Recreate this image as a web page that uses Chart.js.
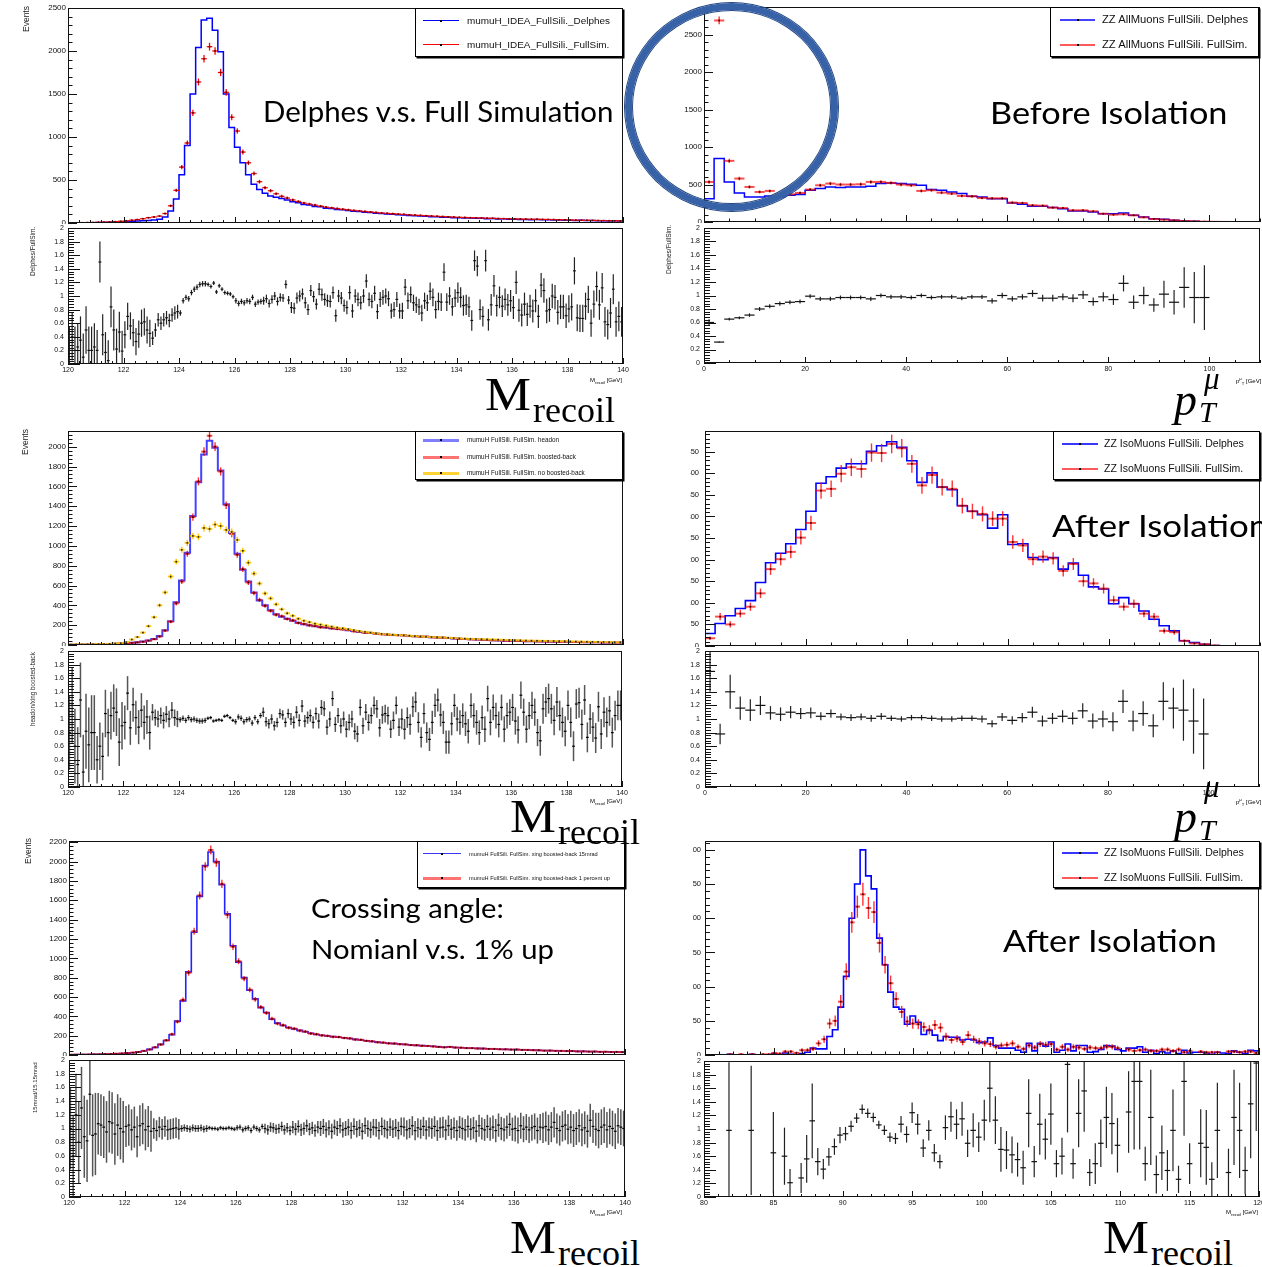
<!DOCTYPE html>
<html>
<head>
<meta charset="utf-8">
<title>Recoil mass and muon pT: Delphes vs full simulation</title>
<script src="https://cdn.jsdelivr.net/npm/chart.js@4.4.1/dist/chart.umd.min.js"></script>
<style>
  html, body { margin: 0; background: #fff; }
  #page { position: relative; width: 1262px; height: 1267px; overflow: hidden; }
  #page canvas { position: absolute; }
  .txt { position: absolute; white-space: nowrap; color: #000; transform-origin: 0 0; }
  .legend { position: absolute; background: #fff; border: 1px solid #000; box-shadow: 1.5px 1.5px 0 #000; box-sizing: border-box; }
  .legend .ln { position: absolute; height: 0; }
  .legend .mk { position: absolute; width: 2px; height: 2px; background: #000; }
  .legend .lt { position: absolute; font: 10px "Liberation Sans", Arial, sans-serif; line-height: 10px; white-space: nowrap; color: #111; transform-origin: 0 50%; }
  #ring { position: absolute; left: 625px; top: 3px; width: 213px; height: 208px; box-sizing: border-box;
          border: 7px solid #3762a8; border-radius: 50%; box-shadow: 0 0 0 1px #24467f, inset 0 0 0 1px #24467f; }
</style>
</head>
<body>
<div id="page"></div>
<script>
// ---------- mumuH recoil mass, 120-140 GeV ----------
const recoilLo = 120, recoilHi = 140;
const recoilBin = 0.2;       // main pads
const recoilRatioBin = 0.1;  // ratio pads

const mumuDelphes = [
  1, 2, 2, 3, 4, 5, 6, 8, 10, 12,
  15, 18, 22, 25, 30, 35, 45, 70, 140, 280,
  560, 900, 1500, 2040, 2360, 2380, 2240, 1990, 1500, 1110,
  880, 700, 560, 450, 390, 345, 315, 300, 285, 268,
  248, 236, 214, 210, 192, 188, 172, 170, 158, 153,
  146, 137, 133, 125, 121, 113, 110, 104, 102, 96,
  93, 87, 85, 80, 79, 74, 73, 68, 67, 62,
  62, 58, 58, 54, 54, 50, 51, 47, 48, 44,
  45, 41, 42, 39, 40, 37, 37, 34, 35, 32,
  33, 30, 31, 28, 29, 26, 27, 24, 25, 23
];
const mumuFullSim = [
  2, 3, 4, 5, 6, 8, 10, 12, 16, 20,
  26, 32, 40, 50, 62, 70, 80, 110, 200, 380,
  650, 930, 1280, 1640, 1910, 2050, 2000, 1750, 1520, 1230,
  1070, 825, 700, 575, 480, 410, 375, 340, 310, 290,
  268, 250, 232, 220, 208, 196, 184, 176, 168, 160,
  152, 146, 140, 134, 128, 122, 116, 112, 108, 104,
  100, 95, 91, 88, 85, 81, 78, 75, 72, 69,
  66, 64, 62, 60, 58, 56, 54, 52, 51, 49,
  48, 46, 45, 44, 43, 42, 41, 40, 38, 37,
  34, 33, 32, 31, 30, 29, 28, 27, 26, 25
];
// Delphes / FullSim, one row per GeV
const mumuRatio = [
  0.2, 0.4, 0.2, 0.25, 0.35, 0.1, 0.5, 0.2, 0.2, 0.25,
  0.2, 1.5, 0.43, 0.17, 0.05, 0.84, 0.5, 0.22, 0.47, 0.19,
  0.43, 0.7, 0.56, 0.46, 0.33, 0.44, 0.6, 0.62, 0.5, 0.45,
  0.38, 0.5, 0.65, 0.6, 0.65, 0.68, 0.64, 0.72, 0.75, 0.77,
  0.75, 0.93, 0.98, 0.96, 1.05, 1.1, 1.13, 1.17, 1.18, 1.18,
  1.17, 1.14, 1.19, 1.06, 1.15, 1.1, 1.05, 1.04, 1.03, 0.99,
  0.93, 0.89, 0.92, 0.9, 0.93, 0.92, 0.98, 0.88, 0.91, 0.92,
  0.93, 0.96, 0.89, 0.95, 1.0, 0.92, 0.98, 0.97, 1.17, 0.94,
  0.83, 0.82, 0.97, 1.0, 1.03, 0.9, 0.8, 1.08, 0.99, 0.88,
  1.1, 1.02, 0.95, 0.93, 0.92, 1.05, 0.71, 1.0, 0.97, 0.86,
  0.83, 1.05, 0.78, 1.0, 0.95, 0.9, 1.0, 1.22, 0.95, 0.92,
  1.04, 0.77, 0.95, 0.98, 1.0, 0.96, 0.78, 0.8, 0.95, 0.78,
  0.78, 1.13, 0.93, 1.02, 0.9, 0.87, 0.84, 0.75, 0.93, 0.9,
  1.07, 0.98, 0.8, 0.92, 0.91, 1.35, 0.91, 1.0, 0.84, 0.97,
  1.05, 0.98, 0.86, 0.87, 0.84, 0.64, 1.52, 1.44, 0.8, 0.7,
  1.52, 0.65, 0.87, 1.15, 0.86, 0.98, 0.85, 0.95, 0.87, 0.93,
  0.83, 1.2, 0.79, 0.72, 0.88, 0.73, 0.85, 0.78, 0.93, 0.7,
  1.16, 1.08, 0.78, 0.8, 1.0, 0.98, 0.76, 0.84, 0.84, 0.71,
  0.81, 0.84, 1.37, 0.68, 0.67, 0.67, 0.85, 0.95, 0.6, 0.88,
  1.14, 0.87, 1.12, 0.62, 0.58, 0.75, 1.1, 0.62, 0.7, 0.62
];
const mumuRatioErr = [0.35, 0.3, 0.2, 0.1, 0.04, 0.03, 0.04, 0.06, 0.08, 0.09,
                      0.1, 0.11, 0.12, 0.13, 0.15, 0.16, 0.17, 0.18, 0.2, 0.22];

const headon = [
  2, 3, 3, 4, 5, 6, 8, 10, 12, 15,
  18, 22, 28, 35, 45, 60, 90, 150, 240, 430,
  650, 930, 1300, 1640, 1920, 2060, 1990, 1760, 1420, 1130,
  920, 760, 640, 530, 450, 400, 350, 310, 285, 265,
  245, 225, 210, 200, 190, 182, 176, 170, 165, 160,
  150, 140, 132, 126, 120, 115, 110, 106, 102, 100,
  96, 92, 88, 85, 82, 79, 76, 73, 70, 66,
  63, 60, 58, 55, 52, 50, 48, 46, 44, 43,
  42, 40, 39, 38, 37, 36, 35, 34, 33, 32,
  31, 30, 29, 28, 28, 27, 26, 25, 25, 24
];
const boostedBack = [
  2, 2, 3, 4, 5, 6, 8, 9, 12, 14,
  17, 21, 26, 33, 44, 58, 85, 145, 235, 420,
  640, 920, 1290, 1650, 1950, 2110, 2000, 1750, 1410, 1120,
  910, 765, 630, 525, 455, 395, 345, 305, 290, 262,
  248, 222, 212, 198, 192, 178, 178, 168, 162, 158,
  152, 138, 135, 124, 122, 112, 108, 104, 100, 98,
  98, 90, 88, 83, 84, 78, 75, 74, 70, 67,
  62, 61, 57, 56, 53, 51, 47, 47, 44, 42,
  43, 40, 38, 39, 36, 36, 34, 35, 32, 33,
  30, 31, 28, 29, 27, 28, 26, 25, 24, 25
];
const noBoostedBack = [
  4, 5, 5, 6, 7, 9, 10, 12, 15, 18,
  30, 55, 80, 125, 190, 280, 400, 530, 690, 840,
  960, 1030, 1100, 1090, 1180, 1170, 1215, 1200, 1160, 1140,
  1060, 950, 830, 720, 620, 520, 470, 410, 360, 320,
  295, 265, 245, 230, 215, 205, 195, 185, 175, 168,
  160, 150, 140, 132, 125, 118, 112, 108, 104, 100,
  97, 94, 90, 86, 83, 80, 78, 76, 73, 70,
  67, 64, 62, 60, 58, 57, 55, 54, 52, 50,
  48, 47, 45, 44, 43, 42, 41, 40, 39, 38,
  36, 35, 34, 33, 32, 31, 30, 29, 28, 27
];
// headon / xing boosted-back
const boostRatio = [
  0.8, 1.2, 0.6, 0.33, 1.28, 0.22, 0.82, 0.62, 0.8, 0.8,
  0.4, 0.6, 0.45, 1.08, 0.8, 1.05, 1.16, 1.1, 0.66, 0.9,
  0.95, 1.38, 0.87, 1.21, 1.02, 0.88, 1.13, 0.95, 1.03, 0.8,
  1.1, 1.02, 1.0, 1.05, 0.98, 1.07, 1.0, 1.13, 1.02, 1.0,
  0.99, 1.01, 0.98, 1.02, 0.99, 1.0, 0.98, 0.97, 0.97, 0.98,
  1.01, 1.02, 0.97, 0.98, 0.99, 0.98, 1.04, 1.05, 1.02, 0.98,
  0.96, 1.03, 1.01, 0.96, 0.99, 1.0, 0.94, 1.02, 0.96, 1.05,
  1.1, 0.96, 0.93, 1.0, 0.9, 0.95, 1.08, 1.06, 0.95, 1.08,
  1.0, 0.95, 1.1, 0.98, 1.19, 0.97, 1.02, 1.05, 0.95, 1.08,
  0.97, 1.17, 1.15, 0.88, 1.0, 1.3, 0.92, 1.05, 0.9, 1.0,
  0.85, 0.95, 1.0, 0.82, 0.78, 1.17, 0.9, 1.1, 0.95, 1.05,
  1.2, 1.15, 0.87, 1.06, 1.08, 1.05, 0.85, 0.98, 1.2, 0.88,
  1.0, 0.85, 1.02, 0.92, 1.18, 1.25, 0.95, 0.73, 1.08, 0.8,
  0.7, 0.95, 1.2, 1.28, 1.06, 0.95, 0.66, 0.66, 0.93, 1.2,
  1.0, 0.95, 1.05, 0.93, 0.82, 1.2, 1.05, 0.95, 0.8, 1.02,
  0.85, 1.3, 0.95, 1.17, 1.05, 0.92, 1.17, 0.85, 1.05, 1.1,
  1.17, 0.97, 0.84, 1.35, 1.1, 0.85, 1.05, 1.2, 1.1, 0.8,
  0.68, 1.15, 1.25, 1.3, 1.15, 0.98, 1.25, 1.05, 0.95, 0.82,
  1.2, 0.95, 0.6, 1.22, 1.24, 0.92, 1.28, 0.73, 1.0, 0.88,
  0.72, 1.18, 0.78, 1.1, 0.95, 1.12, 0.8, 1.05, 1.2, 1.2
];
const boostRatioErr = [0.55, 0.35, 0.25, 0.12, 0.04, 0.025, 0.04, 0.07, 0.09, 0.11,
                       0.12, 0.13, 0.15, 0.17, 0.18, 0.19, 0.2, 0.22, 0.22, 0.22];

const xingNominal = [
  3, 4, 4, 5, 6, 8, 9, 11, 13, 16,
  19, 24, 32, 42, 58, 78, 110, 150, 210, 350,
  560, 860, 1270, 1640, 1960, 2100, 2000, 1760, 1460, 1130,
  960, 800, 670, 580, 490, 440, 370, 330, 305, 285,
  270, 255, 240, 225, 212, 205, 196, 190, 184, 178,
  170, 162, 155, 148, 140, 133, 127, 122, 118, 113,
  108, 104, 100, 97, 93, 90, 84, 80, 86, 78,
  75, 72, 70, 68, 66, 64, 62, 60, 58, 57,
  56, 54, 52, 50, 48, 46, 45, 44, 42, 41,
  40, 38, 37, 36, 35, 34, 33, 32, 31, 30
];
const xingUp = [
  3, 3, 4, 5, 6, 7, 9, 11, 13, 16,
  20, 25, 31, 43, 57, 80, 108, 152, 215, 345,
  570, 850, 1280, 1650, 1950, 2120, 1990, 1770, 1450, 1120,
  970, 790, 675, 575, 495, 435, 375, 325, 308, 282,
  272, 252, 242, 222, 215, 202, 198, 188, 186, 176,
  172, 160, 157, 146, 142, 131, 129, 120, 119, 111,
  110, 102, 101, 95, 94, 88, 85, 79, 84, 77,
  76, 71, 71, 67, 67, 63, 63, 59, 59, 56,
  57, 53, 53, 49, 49, 45, 46, 43, 43, 40,
  41, 37, 38, 35, 36, 33, 34, 31, 32, 29
];
// 15mrad / 15.15mrad
const xingRatio = [
  1.0, 0.6, 1.2, 0.8, 1.3, 0.88, 0.82, 1.5, 0.9, 0.92,
  1.07, 1.05, 1.02, 0.95, 1.1, 1.08, 0.92, 1.05, 1.0, 0.95,
  1.03, 1.05, 0.98, 1.02, 0.88, 1.04, 1.07, 0.98, 1.03, 0.96,
  1.0, 0.97, 1.02, 0.99, 1.03, 0.98, 0.99, 1.0, 1.01, 0.99,
  1.0, 1.01, 1.0, 0.99, 1.01, 1.0, 1.0, 1.01, 0.99, 1.0,
  1.01, 1.0, 1.0, 0.99, 1.01, 1.0, 1.0, 1.01, 1.0, 0.99,
  1.01, 1.02, 0.98, 1.0, 1.01, 0.97, 1.02, 1.0, 0.98, 1.03,
  1.0, 0.98, 1.02, 1.01, 0.99, 1.0, 1.03, 0.98, 1.01, 0.97,
  1.02, 0.99, 1.03, 0.98, 1.0, 1.04, 0.99, 1.01, 0.97, 1.02,
  1.0, 1.03, 0.98, 1.01, 0.96, 1.02, 1.0, 1.04, 0.98, 1.0,
  1.02, 0.97, 1.03, 0.99, 1.01, 0.96, 1.04, 1.0, 0.98, 1.02,
  1.01, 0.97, 1.03, 1.0, 0.98, 1.02, 0.99, 1.01, 0.97, 1.03,
  1.02, 0.98, 1.0, 1.04, 0.97, 1.01, 0.99, 1.03, 0.98, 1.02,
  1.0, 1.03, 0.97, 1.01, 1.02, 0.98, 1.04, 0.99, 1.01, 0.97,
  1.02, 1.0, 0.98, 1.03, 0.99, 1.01, 0.96, 1.04, 1.0, 0.98,
  1.03, 0.99, 1.02, 0.97, 1.05, 1.0, 0.98, 1.02, 1.06, 0.99,
  1.0, 0.97, 1.04, 0.99, 1.02, 0.98, 1.01, 1.03, 0.97, 1.02,
  1.01, 1.03, 0.98, 1.02, 1.09, 1.0, 0.97, 1.03, 1.05, 0.99,
  1.02, 0.97, 1.0, 1.04, 0.98, 1.01, 0.96, 1.12, 1.03, 0.99,
  0.97, 1.02, 1.05, 0.98, 1.03, 1.0, 0.96, 1.04, 1.02, 1.0
];
const xingRatioErr = [0.6, 0.45, 0.3, 0.15, 0.05, 0.03, 0.04, 0.07, 0.09, 0.11,
                      0.12, 0.13, 0.14, 0.15, 0.16, 0.17, 0.19, 0.22, 0.24, 0.26];

// ---------- ZZ muon pT, 0-110 GeV in 2 GeV bins ----------
const ptLo = 0, ptHi = 110, ptBin = 2;
const ptAllDelphes = [
  312, 848, 535, 388, 334, 334, 348, 334, 357, 366,
  424, 446, 468, 460, 468, 468, 477, 513, 522, 513,
  504, 490, 433, 424, 401, 379, 343, 334, 312, 312,
  254, 236, 210, 210, 192, 178, 147, 147, 134, 111,
  111, 120, 89, 67, 45, 36, 22, 13, 9, 5,
  2, 1, 0, 0, 0
];
const ptAllFullSim = [
  535, 2690, 816, 580, 468, 401, 415, 366, 370, 388,
  433, 490, 513, 500, 500, 504, 535, 535, 522, 500,
  490, 415, 424, 392, 379, 348, 343, 321, 316, 316,
  259, 254, 223, 218, 192, 187, 156, 156, 143, 111,
  98, 103, 89, 62, 40, 31, 22, 13, 9, 5,
  2, 1, 0, 0, 0
];
const ptAllRatio = [
  0.6, 0.31, 0.65, 0.67, 0.71, 0.8, 0.84, 0.88, 0.9, 0.91,
  0.99, 0.95, 0.95, 0.97, 0.97, 0.97, 0.95, 1.0, 0.98, 0.98,
  0.97, 1.0, 0.97, 0.98, 0.98, 0.96, 0.98, 0.98, 0.92, 1.0,
  0.95, 0.98, 1.03, 0.96, 0.96, 0.98, 0.96, 1.01, 0.91, 0.98,
  0.94, 1.18, 0.9, 1.0, 0.86, 1.02, 0.9, 1.12, 0.97, 0.97
];
const ptAllRatioErr = [
  0.05, 0.01, 0.02, 0.02, 0.025, 0.03, 0.03, 0.03, 0.03, 0.03,
  0.03, 0.03, 0.03, 0.03, 0.03, 0.03, 0.03, 0.03, 0.03, 0.03,
  0.03, 0.03, 0.03, 0.03, 0.03, 0.03, 0.03, 0.03, 0.04, 0.04,
  0.04, 0.04, 0.05, 0.05, 0.05, 0.05, 0.06, 0.06, 0.06, 0.07,
  0.08, 0.12, 0.1, 0.13, 0.1, 0.2, 0.18, 0.3, 0.38, 0.48
];
const ptIsoDelphes = [
  29, 52, 70, 87, 105, 147, 193, 215, 237, 270,
  312, 377, 392, 412, 422, 422, 451, 464, 473, 460,
  429, 379, 401, 368, 362, 325, 312, 304, 273, 304,
  235, 237, 205, 200, 205, 178, 192, 164, 137, 132,
  98, 112, 98, 81, 62, 47, 35, 12, 8, 4,
  1, 0, 0, 0, 0
];
const ptIsoFullSim = [
  18, 68, 50, 75, 91, 122, 178, 201, 218, 251,
  285, 360, 364, 399, 414, 410, 448, 447, 468, 458,
  422, 372, 396, 368, 364, 325, 312, 306, 295, 295,
  241, 233, 201, 207, 203, 174, 190, 150, 145, 133,
  106, 91, 98, 75, 68, 35, 32, 12, 6, 4,
  1, 0, 0, 0, 0
];
const ptIsoRatio = [
  1.7, 0.78, 1.4, 1.16, 1.13, 1.2, 1.09, 1.07, 1.1, 1.08,
  1.09, 1.04, 1.08, 1.03, 1.02, 1.03, 1.01, 1.04, 1.01, 1.0,
  1.02, 1.02, 1.01, 1.0, 1.0, 1.01, 1.01, 1.0, 0.93, 1.03,
  0.98, 1.02, 1.1, 0.97, 1.01, 1.04, 1.01, 1.12, 0.97, 1.0,
  0.96, 1.26, 0.97, 1.08, 0.9, 1.26, 1.16, 1.13, 0.97, 0.78
];
const ptIsoRatioErr = [
  0.3, 0.15, 0.25, 0.17, 0.16, 0.14, 0.1, 0.1, 0.09, 0.08,
  0.08, 0.06, 0.06, 0.05, 0.05, 0.05, 0.05, 0.05, 0.04, 0.04,
  0.04, 0.04, 0.04, 0.04, 0.04, 0.04, 0.04, 0.05, 0.05, 0.06,
  0.06, 0.07, 0.08, 0.08, 0.08, 0.09, 0.09, 0.11, 0.11, 0.12,
  0.14, 0.17, 0.15, 0.18, 0.17, 0.28, 0.3, 0.45, 0.48, 0.52
];

// ---------- ZZ recoil mass, 80-120 GeV in 0.4 GeV bins ----------
const zzLo = 80, zzHi = 120, zzBin = 0.4;
const zzDelphes = [
  0, 0, 0, 0, 1, 0, 0, 0, 1, 0,
  0, 0, 2, 0, 3, 1, 0, 2, 4, 10,
  9, 9, 27, 37, 70, 115, 200, 250, 300, 262,
  243, 171, 132, 92, 70, 67, 45, 57, 48, 30,
  36, 29, 21, 27, 26, 26, 22, 23, 22, 18,
  19, 25, 14, 10, 10, 10, 7, 4, 17, 6,
  17, 13, 19, 4, 7, 16, 6, 14, 14, 4,
  5, 8, 14, 13, 8, 6, 10, 10, 12, 4,
  7, 2, 5, 3, 6, 2, 7, 3, 4, 4,
  3, 1, 4, 3, 2, 6, 4, 2, 7, 6
];
const zzFullSim = [
  0, 0, 0, 0, 1, 0, 1, 0, 1, 0,
  1, 1, 3, 2, 5, 5, 3, 7, 7, 9,
  17, 23, 46, 50, 78, 122, 194, 217, 235, 215,
  209, 164, 132, 105, 82, 63, 49, 46, 45, 41,
  37, 44, 40, 27, 22, 24, 19, 29, 23, 20,
  17, 16, 12, 14, 15, 17, 12, 9, 14, 11,
  16, 15, 16, 8, 12, 8, 12, 11, 9, 11,
  10, 10, 12, 12, 10, 0, 8, 6, 7, 8,
  6, 6, 8, 8, 6, 8, 4, 6, 0, 5,
  4, 4, 4, 0, 5, 5, 4, 5, 5, 3
];
const zzRatio = [
  null, null, null, null, 0.98, null, null, null, 0.98, null,
  null, null, 0.65, null, 0.6, 0.21, null, 0.28, 0.56, 1.12,
  0.52, 0.41, 0.59, 0.74, 0.91, 0.93, 1.04, 1.16, 1.29, 1.23,
  1.17, 1.06, 0.98, 0.88, 0.86, 1.07, 0.92, 1.24, 1.07, 0.72,
  0.98, 0.65, 0.52, 1.02, 1.18, 1.07, 1.15, 0.79, 0.98, 0.88,
  1.13, 1.6, 1.13, 0.7, 0.69, 0.62, 0.55, 0.43, 1.23, 0.52,
  1.07, 0.85, 1.22, 0.49, 0.6, 1.95, 0.49, 1.23, 1.56, 0.36,
  0.49, 0.79, 1.17, 1.08, 0.76, null, 1.25, 1.7, 1.7, 0.49,
  1.17, 0.33, 0.65, 0.39, 0.98, 0.26, 1.7, 0.49, null, 0.79,
  0.73, 0.26, 0.98, null, 0.36, 1.17, 0.98, 0.39, 1.37, 1.97
];
const zzRatioErr = [
  0, 0, 0, 0, 1.0, 0, 0, 0, 0.95, 0,
  0, 0, 0.6, 0, 0.42, 0.2, 0, 0.22, 0.35, 0.55,
  0.2, 0.15, 0.13, 0.12, 0.12, 0.1, 0.08, 0.07, 0.07, 0.07,
  0.07, 0.06, 0.07, 0.07, 0.08, 0.12, 0.12, 0.15, 0.15, 0.13,
  0.15, 0.13, 0.1, 0.18, 0.22, 0.22, 0.25, 0.2, 0.25, 0.22,
  0.3, 0.5, 0.35, 0.33, 0.28, 0.27, 0.25, 0.25, 0.5, 0.23,
  0.45, 0.3, 0.45, 0.2, 0.27, 1.0, 0.22, 0.5, 0.6, 0.2,
  0.3, 0.35, 0.45, 0.45, 0.4, 0, 0.6, 1.0, 1.0, 0.25,
  0.7, 0.28, 0.4, 0.3, 0.6, 0.2, 0.8, 0.3, 0, 0.5,
  0.55, 0.25, 0.7, 0, 0.35, 0.7, 0.7, 0.35, 0.8, 1.0
];

// ---------- drawing helpers ----------
const page = document.getElementById('page');
Chart.defaults.font.family = '"Liberation Sans", Arial, sans-serif';

// histogram outline: points on the low bin edges, held until the next edge
function stepLine(lo, bin, vals, color, width) {
  const pts = [{x: lo, y: 0}];
  vals.forEach((v, i) => pts.push({x: lo + i * bin, y: v}));
  pts.push({x: lo + vals.length * bin, y: vals[vals.length - 1]});
  return {data: pts, stepped: 'before', borderColor: color, borderWidth: width,
          pointRadius: 0, fill: false, tension: 0};
}

// points with bin-wide horizontal bars and vertical error bars
function crosses(lo, bin, vals, errOf, style) {
  const data = [], err = [];
  vals.forEach((v, i) => {
    if (v === null || v <= 0) return;
    data.push({x: lo + (i + 0.5) * bin, y: v});
    err.push(errOf(i, v));
  });
  return {data, err, half: bin / 2, cross: style, showLine: false, pointRadius: 0};
}

const crossMarks = {
  id: 'crossMarks',
  afterDatasetsDraw(chart) {
    const {ctx, chartArea: a} = chart;
    const xs = chart.scales.x, ys = chart.scales.y;
    ctx.save();
    ctx.beginPath(); ctx.rect(a.left, a.top, a.width, a.height); ctx.clip();
    chart.data.datasets.forEach(ds => {
      if (!ds.cross) return;
      const s = ds.cross;
      ds.data.forEach((p, i) => {
        const px = xs.getPixelForValue(p.x), py = ys.getPixelForValue(p.y);
        ctx.strokeStyle = s.v; ctx.lineWidth = s.vw;
        ctx.beginPath();
        ctx.moveTo(px, ys.getPixelForValue(p.y - ds.err[i]));
        ctx.lineTo(px, ys.getPixelForValue(p.y + ds.err[i]));
        ctx.stroke();
        ctx.strokeStyle = s.h; ctx.lineWidth = s.hw;
        ctx.beginPath();
        ctx.moveTo(xs.getPixelForValue(p.x - ds.half), py);
        ctx.lineTo(xs.getPixelForValue(p.x + ds.half), py);
        ctx.stroke();
        if (s.dot) {
          ctx.fillStyle = s.dot;
          ctx.fillRect(px - 0.8, py - 0.8, 1.6, 1.6);
        }
      });
    });
    ctx.restore();
  }
};

function tickMarks(scale, major, minor) {
  const out = [];
  const k0 = Math.ceil(scale.min / minor - 1e-6), k1 = Math.floor(scale.max / minor + 1e-6);
  for (let k = k0; k <= k1; k++) {
    const v = k * minor, r = v / major;
    out.push([Math.round(v * 1e6) / 1e6, Math.abs(r - Math.round(r)) < 1e-6]);
  }
  return out;
}

// frame with inward ticks on the left and bottom edges
const rootAxes = {
  id: 'rootAxes',
  afterDraw(chart, args, o) {
    const {ctx, chartArea: a} = chart;
    const xs = chart.scales.x, ys = chart.scales.y;
    ctx.save();
    ctx.strokeStyle = '#111';
    ctx.lineWidth = 1;
    ctx.beginPath();
    tickMarks(xs, o.xMajor, o.xMinor).forEach(([v, major]) => {
      const px = Math.round(xs.getPixelForValue(v)) + 0.5;
      ctx.moveTo(px, a.bottom);
      ctx.lineTo(px, a.bottom - (major ? o.xLen[0] : o.xLen[1]));
    });
    tickMarks(ys, o.yMajor, o.yMinor).forEach(([v, major]) => {
      const py = Math.round(ys.getPixelForValue(v)) + 0.5;
      ctx.moveTo(a.left, py);
      ctx.lineTo(a.left + (major ? o.yLen[0] : o.yLen[1]), py);
    });
    ctx.stroke();
    ctx.strokeRect(Math.round(a.left) + 0.5, Math.round(a.top) + 0.5,
                   Math.round(a.width) - 1, Math.round(a.height) - 1);
    ctx.restore();
  }
};
Chart.register(crossMarks, rootAxes);

// labelled ticks only on whole multiples of the major step
const majorTicks = step => s => { s.ticks = tickMarks(s, step, step).map(([v]) => ({value: v})); };

function pad(f, o) {
  const padTop = o.padTop ?? 6;
  const hx = o.xLabels ? 14 : 1;
  const right = o.canvasRight ?? Math.min(1262, f.r + 8);
  const wy = f.l - o.canvasLeft;
  const canvas = document.createElement('canvas');
  canvas.width = right - o.canvasLeft;
  canvas.height = f.b - f.t + padTop + hx;
  canvas.style.left = o.canvasLeft + 'px';
  canvas.style.top = (f.t - padTop) + 'px';
  page.appendChild(canvas);
  const fmt = o.ratio ? (v => String(Math.round(v * 10) / 10)) : (v => String(v));
  return new Chart(canvas, {
    type: 'line',
    data: {datasets: o.datasets},
    options: {
      responsive: false, animation: false, devicePixelRatio: 1,
      layout: {padding: {top: padTop, right: right - f.r, left: 0, bottom: 0}},
      plugins: {legend: {display: false}, tooltip: {enabled: false}, rootAxes: o.axes},
      scales: {
        x: {
          type: 'linear', min: o.x[0], max: o.x[1],
          grid: {display: false, drawTicks: false}, border: {display: false},
          ticks: {display: !!o.xLabels, autoSkip: false, maxRotation: 0, padding: 2,
                  color: '#111', font: {size: 7}, callback: v => String(v)},
          afterBuildTicks: majorTicks(o.axes.xMajor),
          afterFit: s => { s.height = hx; s.paddingLeft = 0; s.paddingRight = 0; }
        },
        y: {
          min: o.y[0], max: o.y[1],
          grid: {display: false, drawTicks: false}, border: {display: false},
          ticks: {autoSkip: false, padding: o.yPad ?? 2, color: '#111',
                  font: {size: o.yFont ?? 8}, callback: fmt},
          afterBuildTicks: majorTicks(o.axes.yMajor),
          afterFit: s => { s.width = wy; s.paddingTop = 0; s.paddingBottom = 0; }
        }
      }
    }
  });
}

const blueHist = '#0000ff';
const redPts = {h: '#ff0000', v: '#ff0000', hw: 1.3, vw: 1.3, dot: '#5a0000'};
const redSoft = {h: 'rgba(255,0,0,0.7)', v: 'rgba(255,0,0,0.8)', hw: 2, vw: 1.4, dot: '#300'};
const goldPts = {h: 'rgba(255,200,0,0.9)', v: 'rgba(255,190,0,0.95)', hw: 2, vw: 1.4, dot: '#222'};
const ratioPts = {h: '#111', v: '#222', hw: 1.2, vw: 1.2, dot: null};
const ratioDense = {h: '#000', v: '#555', hw: 1.2, vw: 1.5, dot: null};

const recoilTicks = {xMajor: 2, xMinor: 0.4, xLen: [6, 3]};
const ratioY = {yMajor: 0.2, yMinor: 0.04, yLen: [12, 6]};

// ---- top row ----
pad({l: 68, t: 8, r: 623, b: 223}, {
  canvasLeft: 30, x: [recoilLo, recoilHi], y: [0, 2500],
  axes: {...recoilTicks, yMajor: 500, yMinor: 100, yLen: [9, 4.5]},
  datasets: [
    stepLine(recoilLo, recoilBin, mumuDelphes, blueHist, 1.5),
    crosses(recoilLo, recoilBin, mumuFullSim, (i, v) => Math.sqrt(v), redPts)
  ]
});
pad({l: 68, t: 228, r: 623, b: 364}, {
  canvasLeft: 30, x: [recoilLo, recoilHi], y: [0, 2], xLabels: true, ratio: true, yFont: 7, yPad: 4,
  axes: {...recoilTicks, ...ratioY},
  datasets: [crosses(recoilLo, recoilRatioBin, mumuRatio, i => mumuRatioErr[Math.floor(i / 10)], ratioPts)]
});
pad({l: 704, t: 7, r: 1260, b: 222}, {
  canvasLeft: 670, canvasRight: 1262, x: [ptLo, ptHi], y: [0, 2870],
  axes: {xMajor: 20, xMinor: 5, xLen: [7, 3.5], yMajor: 500, yMinor: 100, yLen: [9, 4.5]},
  datasets: [
    stepLine(ptLo, ptBin, ptAllDelphes, blueHist, 1.5),
    crosses(ptLo, ptBin, ptAllFullSim, (i, v) => Math.sqrt(v), redSoft)
  ]
});
pad({l: 704, t: 228, r: 1260, b: 363}, {
  canvasLeft: 670, canvasRight: 1262, x: [ptLo, ptHi], y: [0, 2], xLabels: true, ratio: true, yFont: 7, yPad: 4,
  axes: {xMajor: 20, xMinor: 5, xLen: [6, 3], ...ratioY},
  datasets: [crosses(ptLo, ptBin, ptAllRatio, i => ptAllRatioErr[i], ratioPts)]
});

// ---- middle row ----
pad({l: 68, t: 431, r: 623, b: 645}, {
  canvasLeft: 30, x: [recoilLo, recoilHi], y: [0, 2158],
  axes: {...recoilTicks, yMajor: 200, yMinor: 40, yLen: [9, 4.5]},
  datasets: [
    stepLine(recoilLo, recoilBin, headon, 'rgba(20,20,255,0.8)', 2),
    crosses(recoilLo, recoilBin, boostedBack, (i, v) => Math.sqrt(v), redSoft),
    crosses(recoilLo, recoilBin, noBoostedBack, (i, v) => Math.sqrt(v), goldPts)
  ]
});
pad({l: 68, t: 651, r: 622, b: 787}, {
  canvasLeft: 30, x: [recoilLo, recoilHi], y: [0, 2], xLabels: true, ratio: true, yFont: 7, yPad: 4,
  axes: {...recoilTicks, ...ratioY},
  datasets: [crosses(recoilLo, recoilRatioBin, boostRatio, i => boostRatioErr[Math.floor(i / 10)], ratioDense)]
});
pad({l: 705, t: 431, r: 1260, b: 646}, {
  canvasLeft: 690, canvasRight: 1262, x: [ptLo, ptHi], y: [0, 498], yFont: 7.5, yPad: 6,
  axes: {xMajor: 20, xMinor: 5, xLen: [7, 3.5], yMajor: 50, yMinor: 10, yLen: [10, 5]},
  datasets: [
    stepLine(ptLo, ptBin, ptIsoDelphes, blueHist, 1.6),
    crosses(ptLo, ptBin, ptIsoFullSim, (i, v) => Math.sqrt(v), redSoft)
  ]
});
pad({l: 705, t: 651, r: 1259, b: 787}, {
  canvasLeft: 682, canvasRight: 1262, x: [ptLo, ptHi], y: [0, 2], xLabels: true, ratio: true, yFont: 7, yPad: 5,
  axes: {xMajor: 20, xMinor: 5, xLen: [6, 3], ...ratioY},
  datasets: [crosses(ptLo, ptBin, ptIsoRatio, i => ptIsoRatioErr[i], ratioPts)]
});

// ---- bottom row ----
pad({l: 69, t: 841, r: 625, b: 1055}, {
  canvasLeft: 30, x: [recoilLo, recoilHi], y: [0, 2213],
  axes: {...recoilTicks, yMajor: 200, yMinor: 40, yLen: [9, 4.5]},
  datasets: [
    stepLine(recoilLo, recoilBin, xingNominal, 'rgba(10,10,255,0.9)', 1.6),
    crosses(recoilLo, recoilBin, xingUp, (i, v) => Math.sqrt(v), redSoft)
  ]
});
pad({l: 69, t: 1060, r: 625, b: 1197}, {
  canvasLeft: 30, x: [recoilLo, recoilHi], y: [0, 2], xLabels: true, ratio: true, yFont: 7, yPad: 4,
  axes: {...recoilTicks, ...ratioY},
  datasets: [crosses(recoilLo, recoilRatioBin, xingRatio, i => xingRatioErr[Math.floor(i / 10)], ratioDense)]
});
pad({l: 705, t: 841, r: 1259, b: 1055}, {
  canvasLeft: 693, canvasRight: 1262, x: [zzLo, zzHi], y: [0, 313], yFont: 7.5, yPad: 4,
  axes: {xMajor: 5, xMinor: 1, xLen: [7, 3.5], yMajor: 50, yMinor: 10, yLen: [10, 5]},
  datasets: [
    stepLine(zzLo, zzBin, zzDelphes, blueHist, 1.6),
    crosses(zzLo, zzBin, zzFullSim, (i, v) => 1.1 * Math.sqrt(v), redSoft)
  ]
});
pad({l: 704, t: 1061, r: 1259, b: 1197}, {
  canvasLeft: 693, canvasRight: 1262, x: [zzLo, zzHi], y: [0, 2], xLabels: true, ratio: true, yFont: 7, yPad: 3,
  axes: {xMajor: 5, xMinor: 1, xLen: [6, 3], ...ratioY},
  datasets: [crosses(zzLo, zzBin, zzRatio, i => zzRatioErr[i], ratioPts)]
});

// ---------- legends ----------
function legend(box, lineX, textX, width, rows) {
  const el = document.createElement('div');
  el.className = 'legend';
  el.style.cssText = `left:${box.l}px;top:${box.t}px;width:${box.r - box.l}px;height:${box.b - box.t}px`;
  page.appendChild(el);
  let k = null;
  rows.forEach(r => {
    const ln = document.createElement('div');
    ln.className = 'ln';
    ln.style.cssText = `left:${lineX[0] - box.l}px;top:${r.y - box.t - r.w / 2}px;width:${lineX[1] - lineX[0]}px;border-top:${r.w}px solid ${r.color}`;
    const mk = document.createElement('div');
    mk.className = 'mk';
    mk.style.cssText = `left:${(lineX[0] + lineX[1]) / 2 - box.l - 1}px;top:${r.y - box.t - 1}px`;
    const tx = document.createElement('div');
    tx.className = 'lt';
    tx.textContent = r.text;
    tx.style.left = (textX - box.l) + 'px';
    tx.style.top = (r.y - box.t - 5) + 'px';
    el.append(ln, mk, tx);
    if (k === null) k = width / tx.offsetWidth;
    tx.style.transform = `scale(${k})`;
  });
}

legend({l: 415, t: 8, r: 623, b: 57}, [422, 458], 466, 143, [
  {y: 20, color: '#0000ff', w: 1.5, text: 'mumuH_IDEA_FullSili._Delphes'},
  {y: 44, color: '#ff0000', w: 1.5, text: 'mumuH_IDEA_FullSili._FullSim.'}
]);
legend({l: 1050, t: 7, r: 1259, b: 57}, [1059, 1094], 1101, 146, [
  {y: 19, color: 'rgba(20,20,255,0.8)', w: 2, text: 'ZZ AllMuons FullSili. Delphes'},
  {y: 44, color: 'rgba(255,0,0,0.65)', w: 2.5, text: 'ZZ AllMuons FullSili. FullSim.'}
]);
legend({l: 415, t: 431, r: 623, b: 480}, [422, 458], 466, 92, [
  {y: 439, color: 'rgba(40,40,255,0.6)', w: 3, text: 'mumuH FullSili. FullSim. headon'},
  {y: 456, color: 'rgba(255,0,0,0.55)', w: 3, text: 'mumuH FullSili. FullSim. boosted-back'},
  {y: 472, color: 'rgba(255,200,0,0.8)', w: 3, text: 'mumuH FullSili. FullSim. no boosted-back'}
]);
legend({l: 1053, t: 431, r: 1260, b: 480}, [1061, 1097], 1103, 140, [
  {y: 443, color: 'rgba(20,20,255,0.85)', w: 2, text: 'ZZ IsoMuons FullSili. Delphes'},
  {y: 468, color: 'rgba(255,0,0,0.65)', w: 2.5, text: 'ZZ IsoMuons FullSili. FullSim.'}
]);
legend({l: 417, t: 841, r: 625, b: 888}, [422, 460], 468, 129, [
  {y: 853, color: 'rgba(20,20,255,0.85)', w: 1.5, text: 'mumuH FullSili. FullSim. xing boosted-back 15mrad'},
  {y: 877, color: 'rgba(255,0,0,0.55)', w: 3, text: 'mumuH FullSili. FullSim. xing boosted-back 1 percent up'}
]);
legend({l: 1053, t: 841, r: 1260, b: 888}, [1061, 1097], 1103, 140, [
  {y: 852, color: 'rgba(20,20,255,0.85)', w: 2, text: 'ZZ IsoMuons FullSili. Delphes'},
  {y: 877, color: 'rgba(255,0,0,0.65)', w: 2.5, text: 'ZZ IsoMuons FullSili. FullSim.'}
]);

// ---------- text ----------
const meter = document.createElement('canvas').getContext('2d');
function fontMetrics(font) {
  meter.font = font;
  const m = meter.measureText('H');
  return {cap: m.actualBoundingBoxAscent, asc: m.fontBoundingBoxAscent, desc: m.fontBoundingBoxDescent};
}
// o: family, style, size | capH, left, baseline | capTop, width (stretched to fit)
function text(str, o) {
  const style = o.style || '';
  let size = o.size;
  if (o.capH) size = o.capH * 100 / fontMetrics(`${style} 100px ${o.family}`).cap;
  const font = `${style} ${size}px ${o.family}`;
  const m = fontMetrics(font);
  const baseline = o.baseline ?? (o.capTop + m.cap);
  const el = document.createElement('div');
  el.className = 'txt';
  el.innerHTML = str;
  el.style.font = font;
  el.style.lineHeight = size + 'px';
  el.style.left = o.left + 'px';
  el.style.top = (baseline - ((size - m.asc - m.desc) / 2 + m.asc)) + 'px';
  page.appendChild(el);
  if (o.width) el.style.transform = `scaleX(${o.width / el.offsetWidth})`;
  if (o.sx) el.style.transform = `scaleX(${o.sx})`;
  return el;
}
// vertical axis title, reading bottom to top
function vtitle(str, x, yBottom, size) {
  const el = document.createElement('div');
  el.className = 'txt';
  el.textContent = str;
  el.style.cssText += `font:${size}px "Liberation Sans",Arial,sans-serif;line-height:${size}px;left:${x}px;top:${yBottom}px;transform:rotate(-90deg);color:#222`;
  page.appendChild(el);
}

const sans = 'Lato, "Open Sans", sans-serif';
text('Delphes v.s. Full Simulation', {family: sans, capH: 21, left: 263, capTop: 101, width: 350});
text('Before Isolation', {family: sans, capH: 22, left: 990, capTop: 102, width: 238});
text('After Isolation', {family: sans, capH: 23, left: 1052, capTop: 516, width: 216});
text('Crossing angle:', {family: sans, capH: 19, left: 311, capTop: 899, width: 193});
text('Nomianl v.s. 1% up', {family: sans, capH: 19, left: 311, capTop: 940, width: 243});
text('After Isolation', {family: sans, capH: 22, left: 1003, capTop: 930, width: 214});

const serif = '"Liberation Serif", "DejaVu Serif", serif';
[[485, 410], [510, 832], [510, 1253], [1103, 1253]].forEach(([x, b]) => {
  text('M', {family: serif, size: 47, left: x, baseline: b, sx: 1.1});
  text('recoil', {family: serif, size: 36, left: x + 48, baseline: b + 12});
});
[[415, 422, 389], [832, 840, 797]].forEach(([bp, bt, bm]) => {
  text('p', {family: serif, style: 'italic', size: 46, left: 1174, baseline: bp});
  text('T', {family: serif, style: 'italic', size: 30, left: 1199, baseline: bt});
  text('μ', {family: serif, style: 'italic', size: 31, left: 1204, baseline: bm});
});

// small ROOT axis titles
vtitle('Events', 22, 32, 8.5);
vtitle('Events', 21, 455, 8.5);
vtitle('Events', 24, 864, 8.5);
vtitle('Delphes/FullSim.', 30, 276, 6.5);
vtitle('Delphes/FullSim.', 666, 274, 6.5);
vtitle('headon/xing boosted-back', 30, 726, 6.3);
vtitle('15mrad/15.15mrad', 32, 1113, 6);
const tiny = '"Liberation Sans", Arial, sans-serif';
[[590, 382], [590, 803], [590, 1214], [1226, 1214]].forEach(([x, b]) =>
  text('M<sub style="font-size:70%">recoil</sub> [GeV]', {family: tiny, size: 6, left: x, baseline: b}));
[[1236, 381], [1236, 802]].forEach(([x, b]) =>
  text('p<sup style="font-size:70%">μ</sup><sub style="font-size:70%">T</sub> [GeV]', {family: tiny, size: 6, left: x, baseline: b}));

const ring = document.createElement('div');
ring.id = 'ring';
page.appendChild(ring);
</script>
</body>
</html>
